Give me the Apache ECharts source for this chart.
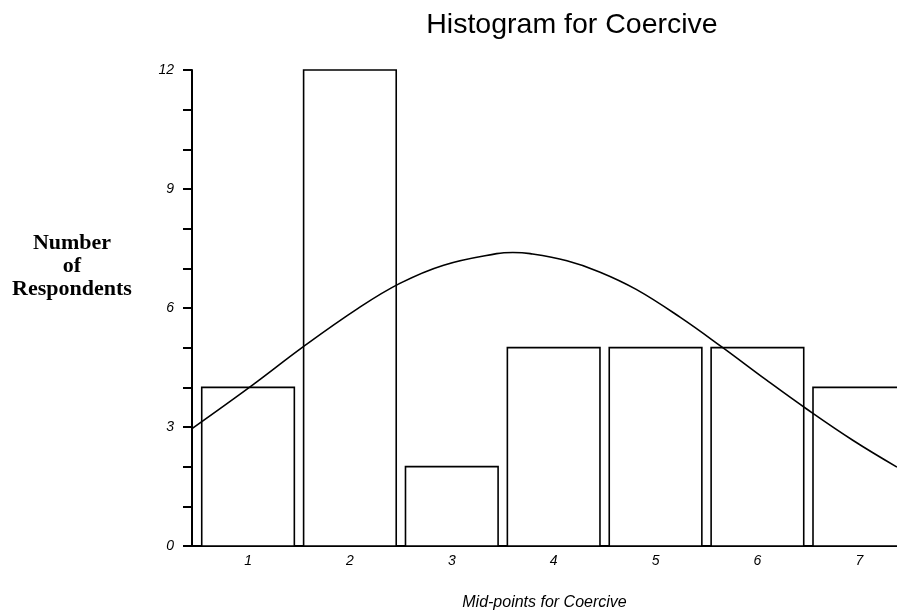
<!DOCTYPE html>
<html>
<head>
<meta charset="utf-8">
<script src="https://cdn.jsdelivr.net/npm/echarts@6/dist/echarts.min.js"></script>
<style>
  html, body { margin: 0; padding: 0; background: #fff; }
  #chart { width: 897px; height: 614px; }
</style>
</head>
<body>
<div id="chart"></div>
<script>
// 直方图数据
var midPoints = [1, 2, 3, 4, 5, 6, 7];
var counts = [4, 12, 2, 5, 5, 5, 4];
var yTicks = [0, 3, 6, 9, 12];

// 正态曲线（从图上读取的点）
var curveX = [0.45, 1.04, 1.54, 2.08, 2.49, 2.92, 3.44, 3.60, 3.77, 4.13, 4.45, 4.81, 5.24, 5.65, 6.09, 6.48, 6.94, 7.37];
var curveY = [2.96, 4.05, 5.02, 5.99, 6.62, 7.08, 7.37, 7.40, 7.37, 7.19, 6.91, 6.47, 5.77, 5.02, 4.18, 3.46, 2.66, 1.99];

var barSpan = 0.909;
var chart = echarts.init(document.getElementById('chart'));

var option = {
  backgroundColor: '#fff',
  animation: false,
  graphic: [
    {
      type: 'text',
      x: 572, y: 25,
      style: {
        text: 'Histogram for Coercive',
        textAlign: 'center',
        textVerticalAlign: 'middle',
        font: '28.5px "Liberation Sans", Arial, sans-serif',
        fill: '#000'
      }
    },
    {
      type: 'text',
      x: 72, y: 266,
      style: {
        text: 'Number\nof\nRespondents',
        textAlign: 'center',
        textVerticalAlign: 'middle',
        font: 'bold 22px "Liberation Serif", "Times New Roman", serif',
        lineHeight: 23,
        fill: '#000'
      }
    }
  ],
  grid: { left: 192, right: 0, top: 70, bottom: 68, outerBoundsMode: 'none' },
  xAxis: {
    type: 'value',
    min: 0.45,
    max: 7.37,
    name: 'Mid-points for Coercive',
    nameLocation: 'middle',
    nameGap: 49,
    nameTextStyle: { fontFamily: '"Liberation Sans", Arial', fontStyle: 'italic', fontSize: 16, color: '#000' },
    axisLine: { lineStyle: { color: '#000', width: 2 } },
    axisTick: { show: false },
    splitLine: { show: false },
    axisLabel: {
      customValues: midPoints,
      margin: 8,
      fontFamily: '"Liberation Sans", Arial',
      fontStyle: 'italic',
      fontSize: 14,
      color: '#000'
    }
  },
  yAxis: {
    type: 'value',
    min: 0,
    max: 12,
    interval: 1,
    axisLine: { show: true, lineStyle: { color: '#000', width: 2 } },
    axisTick: { show: true, length: 9, lineStyle: { color: '#000', width: 2 } },
    splitLine: { show: false },
    axisLabel: {
      margin: 18,
      fontFamily: '"Liberation Sans", Arial',
      fontStyle: 'italic',
      fontSize: 14,
      color: '#000',
      formatter: function (v) {
        return yTicks.indexOf(v) >= 0 ? String(v) : '';
      }
    }
  },
  series: [
    {
      type: 'custom',
      data: midPoints.map(function (m, i) { return [m, counts[i]]; }),
      renderItem: function (params, api) {
        var x = api.value(0);
        var y = api.value(1);
        var p0 = api.coord([x - barSpan / 2, y]);
        var p1 = api.coord([x + barSpan / 2, 0]);
        return {
          type: 'rect',
          shape: { x: p0[0], y: p0[1], width: p1[0] - p0[0], height: p1[1] - p0[1] },
          style: { fill: '#fff', stroke: '#000', lineWidth: 1.6 }
        };
      },
      z: 1
    },
    {
      type: 'line',
      data: curveX.map(function (x, i) { return [x, curveY[i]]; }),
      smooth: 0.4,
      showSymbol: false,
      symbol: 'none',
      lineStyle: { color: '#000', width: 1.6 },
      z: 3
    }
  ]
};
chart.setOption(option);
</script>
</body>
</html>
